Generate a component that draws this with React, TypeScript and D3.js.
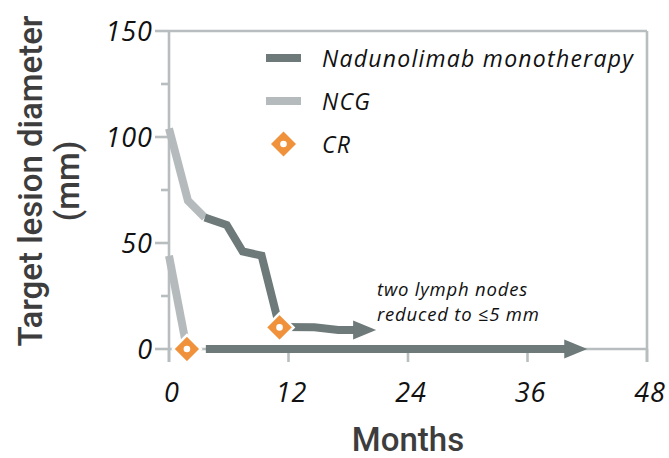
import React from "react";
import * as d3 from "d3";

const W = 669;
const H = 458;

// Data (months, target lesion diameter in mm)
const ncgAMonths = [0, 1.9, 3.6];
const ncgAValues = [104, 70, 62];
const nadAMonths = [3.6, 5.8, 7.4, 9.3, 11.1];
const nadAValues = [62, 58.5, 46, 44, 10.4];
const nadATailMonths = [11.1, 14.6, 17, 20.8];
const nadATailValues = [10.4, 10.3, 9, 9];
const ncgBMonths = [0, 1.8];
const ncgBValues = [44, 0];
const nadBMonths = [3.7, 42];
const nadBValues = [0, 0];
const crMonths = [1.8, 11.1];
const crValues = [0, 10.2];

const xTicks = [0, 12, 24, 36, 48];
const yTicks = [0, 25, 50, 75, 100, 125, 150];
const yLabelTicks = [0, 50, 100, 150];

const legendItems = ["Nadunolimab monotherapy", "NCG", "CR"];
const annotationLines = ["two lymph nodes", "reduced to \u22645 mm"];

const DARK = "#6e7979";
const LIGHT = "#b5bbbc";
const AXIS = "#b8bebf";
const ORANGE = "#f0923b";
const TITLE = "#3d3d3d";

const x = d3.scaleLinear().domain([0, 48]).range([169, 647]);
const y = d3.scaleLinear().domain([0, 150]).range([349, 31]);

const toPts = (ms: number[], vs: number[]) => ms.map((m, i) => [x(m), y(vs[i])] as [number, number]);
const line = d3.line<[number, number]>().x((d) => d[0]).y((d) => d[1]);

function Arrow({ ms, vs, color }: { ms: number[]; vs: number[]; color: string }) {
  const pts = toPts(ms, vs);
  const n = pts.length;
  const tip = pts[n - 1];
  const prev = pts[n - 2];
  const ang = Math.atan2(tip[1] - prev[1], tip[0] - prev[0]);
  const len = 23;
  const half = 9.5;
  const bx = tip[0] - len * Math.cos(ang);
  const by = tip[1] - len * Math.sin(ang);
  const body = pts.slice(0, n - 1).concat([[bx + 2 * Math.cos(ang), by + 2 * Math.sin(ang)]]);
  const p1 = [bx - half * Math.sin(ang), by + half * Math.cos(ang)];
  const p2 = [bx + half * Math.sin(ang), by - half * Math.cos(ang)];
  return (
    <g>
      <path d={line(body) || ""} fill="none" stroke={color} strokeWidth={8} strokeLinejoin="miter" />
      <polygon points={`${tip[0]},${tip[1]} ${p1[0]},${p1[1]} ${p2[0]},${p2[1]}`} fill={color} />
    </g>
  );
}

function Diamond({ cx, cy, border }: { cx: number; cy: number; border: boolean }) {
  const r = border ? 14 : 12.5;
  return (
    <g>
      <polygon
        points={`${cx},${cy - r} ${cx + r},${cy} ${cx},${cy + r} ${cx - r},${cy}`}
        fill={ORANGE}
        stroke={border ? "#ffffff" : "none"}
        strokeWidth={2.5}
      />
      <circle cx={cx} cy={cy} r={3.3} fill="#ffffff" />
    </g>
  );
}

export default function App() {
  const y0 = y(0);
  const yTop = y(150);
  const xL = x(0);
  const xR = x(48);
  const tickFont = { fontFamily: "'Open Sans', sans-serif", fontStyle: "italic" as const, fontSize: 27, letterSpacing: 1, fill: "#111" };
  const legendY = [58, 101, 144];
  return (
    <svg width={W} height={H} style={{ position: "absolute", left: 0, top: 0, background: "#fff" }}>
      {/* frame */}
      <g stroke={AXIS} strokeWidth={2.6} fill="none">
        <line x1={xL} x2={xR} y1={yTop} y2={yTop} />
        <line x1={xL} x2={xL} y1={yTop} y2={y0 + 13} />
        <line x1={xR} x2={xR} y1={yTop} y2={y0 + 13} />
        <line x1={xL} x2={xR} y1={y0} y2={y0} />
        {yTicks.map((t) => (
          <line key={"yt" + t} x1={xL - (t % 50 === 0 ? 14 : 8)} x2={xL} y1={y(t)} y2={y(t)} />
        ))}
        {xTicks.map((t) => (
          <line key={"xt" + t} x1={x(t)} x2={x(t)} y1={y0} y2={y0 + 13} />
        ))}
      </g>
      {yLabelTicks.map((t) => (
        <text key={"yl" + t} x={xL - 16} y={y(t) + 10} textAnchor="end" {...tickFont}>
          {t}
        </text>
      ))}
      {xTicks.map((t) => (
        <text key={"xl" + t} x={x(t) + 3} y={y0 + 53} textAnchor="middle" {...tickFont}>
          {t}
        </text>
      ))}
      {/* axis titles */}
      <text x={408} y={451} textAnchor="middle" fontFamily="Roboto, sans-serif" fontWeight={500} fontSize={33} fill={TITLE}>
        Months
      </text>
      <text
        transform="translate(42,181) rotate(-90)"
        textAnchor="middle"
        fontFamily="Roboto, sans-serif"
        fontWeight={500}
        fontSize={33}
        fill={TITLE}
      >
        Target lesion diameter
      </text>
      <text
        transform="translate(79,181) rotate(-90)"
        textAnchor="middle"
        fontFamily="Roboto, sans-serif"
        fontWeight={500}
        fontSize={33}
        fill={TITLE}
      >
        (mm)
      </text>
      {/* series */}
      <path d={line(toPts(ncgAMonths, ncgAValues)) || ""} fill="none" stroke={LIGHT} strokeWidth={8} />
      <path d={line(toPts(ncgBMonths, ncgBValues)) || ""} fill="none" stroke={LIGHT} strokeWidth={8} />
      <path d={line(toPts(nadAMonths, nadAValues)) || ""} fill="none" stroke={DARK} strokeWidth={8} />
      <Arrow ms={nadATailMonths} vs={nadATailValues} color={DARK} />
      <Arrow ms={nadBMonths} vs={nadBValues} color={DARK} />
      {crMonths.map((m, i) => (
        <Diamond key={"cr" + i} cx={x(m)} cy={y(crValues[i])} border={true} />
      ))}
      {/* annotation */}
      {annotationLines.map((s, i) => (
        <text
          key={"an" + i}
          x={377}
          y={296 + i * 25}
          fontFamily="'Open Sans', sans-serif"
          fontStyle="italic"
          fontSize={18.5}
          letterSpacing={0.8}
          fill="#111"
        >
          {s}
        </text>
      ))}
      {/* legend */}
      <line x1={266} x2={301} y1={legendY[0]} y2={legendY[0]} stroke={DARK} strokeWidth={8} />
      <line x1={266} x2={301} y1={legendY[1]} y2={legendY[1]} stroke={LIGHT} strokeWidth={8} />
      <Diamond cx={283.5} cy={legendY[2]} border={false} />
      {legendItems.map((s, i) => (
        <text
          key={"lg" + i}
          x={322}
          y={legendY[i] + 9}
          fontFamily="'Open Sans', sans-serif"
          fontStyle="italic"
          fontSize={23}
          letterSpacing={1.25}
          fill="#111"
        >
          {s}
        </text>
      ))}
    </svg>
  );
}
